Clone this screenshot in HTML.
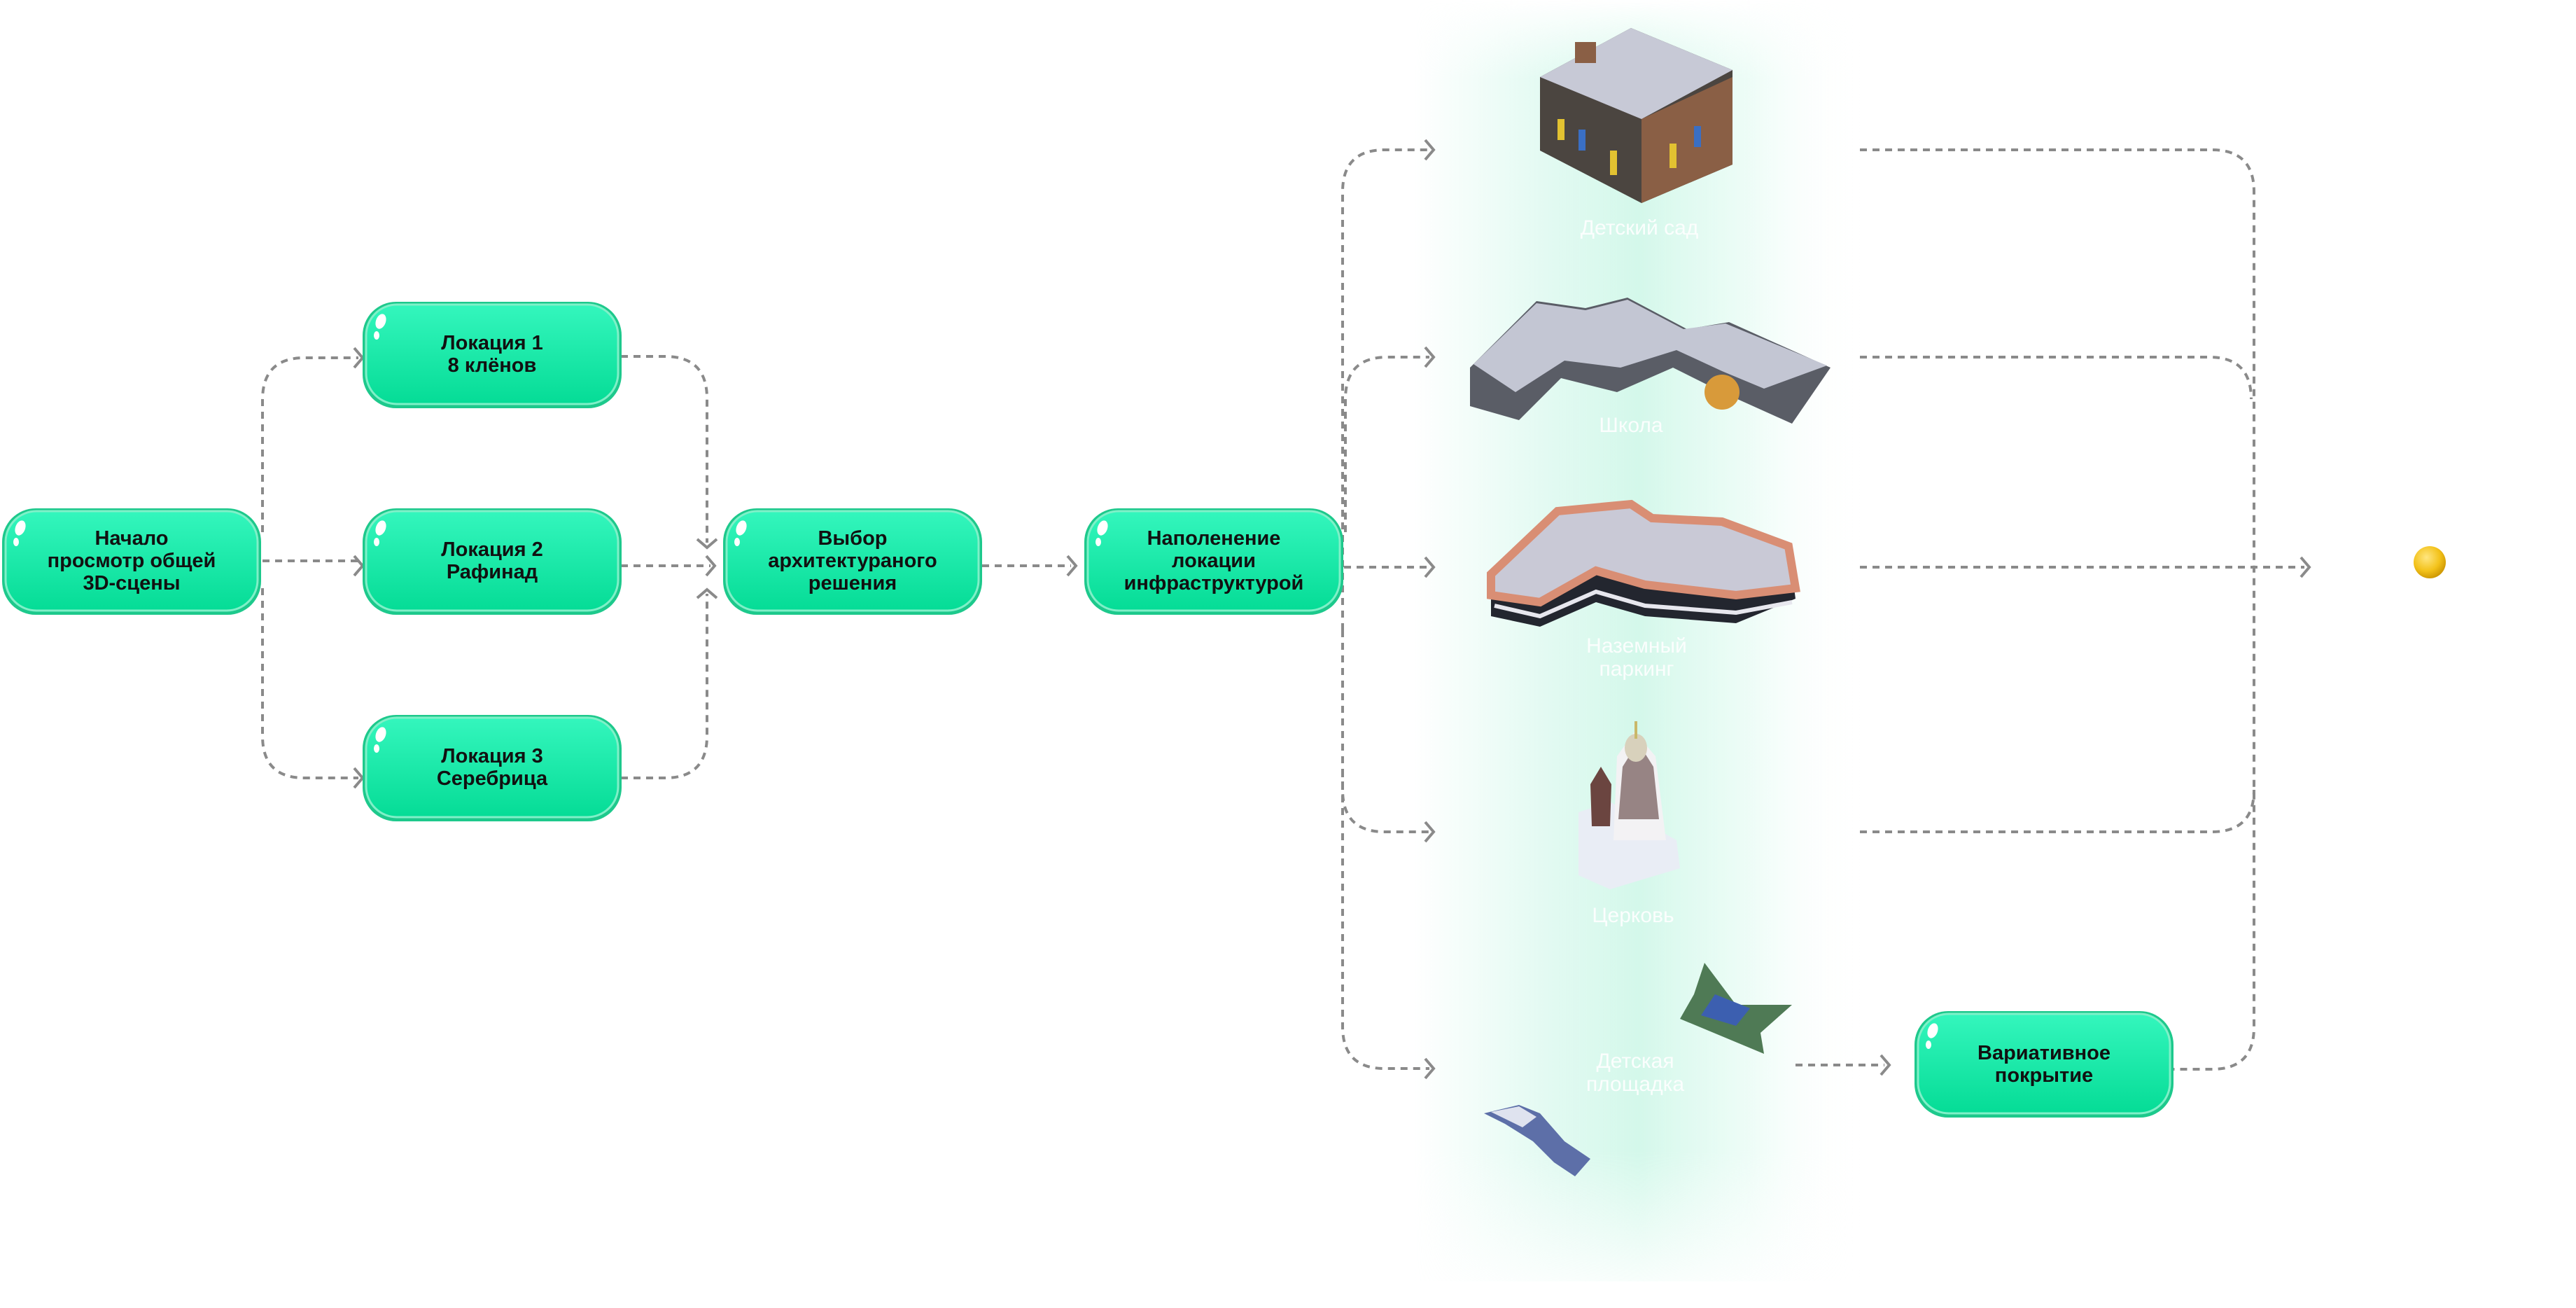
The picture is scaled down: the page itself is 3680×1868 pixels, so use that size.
<!DOCTYPE html>
<html><head><meta charset="utf-8"><style>
html,body{margin:0;padding:0;background:#fff;width:3680px;height:1868px;overflow:hidden}
svg{display:block}
text{font-family:"Liberation Sans",sans-serif}
</style></head><body>
<svg width="3680" height="1868" viewBox="0 0 3680 1868" xmlns="http://www.w3.org/2000/svg">
<defs>
<linearGradient id="ng" x1="0" y1="0" x2="0" y2="1">
<stop offset="0" stop-color="#34f6bd"/><stop offset="1" stop-color="#05dc96"/></linearGradient>
<linearGradient id="col" x1="0" y1="0" x2="1" y2="0">
<stop offset="0" stop-color="#d6f8ec" stop-opacity="0"/><stop offset="0.3" stop-color="#d6f8ec" stop-opacity="0.7"/><stop offset="0.5" stop-color="#cff7e8" stop-opacity="0.9"/><stop offset="0.75" stop-color="#dcfaef" stop-opacity="0.5"/><stop offset="1" stop-color="#ffffff" stop-opacity="0"/></linearGradient>
<linearGradient id="colv" x1="0" y1="0" x2="0" y2="1">
<stop offset="0" stop-color="#fff" stop-opacity="0"/><stop offset="0.06" stop-color="#fff" stop-opacity="1"/><stop offset="0.88" stop-color="#fff" stop-opacity="1"/><stop offset="1" stop-color="#fff" stop-opacity="0"/></linearGradient>
<mask id="vm"><rect x="2000" y="0" width="680" height="1868" fill="url(#colv)"/></mask>
<radialGradient id="dot" cx="0.4" cy="0.35" r="0.7">
<stop offset="0" stop-color="#ffe680"/><stop offset="0.6" stop-color="#f3c21a"/><stop offset="1" stop-color="#c99200"/></radialGradient>
<g id="node">
<rect x="0" y="0" width="370" height="152" rx="48" fill="#1dc98c"/>
<rect x="5" y="4" width="360" height="142" rx="44" fill="url(#ng)" stroke="#7ff0c8" stroke-width="3"/>
<ellipse cx="26" cy="28" rx="7" ry="11" fill="#fff" transform="rotate(20 26 28)"/>
<ellipse cx="20" cy="48" rx="4" ry="6" fill="#fff"/>
</g>
</defs>

<!-- glow column -->
<rect x="2020" y="0" width="640" height="1830" fill="url(#col)" mask="url(#vm)"/>

<!-- connectors -->
<g fill="none" stroke="#8a8a8a" stroke-width="4" stroke-dasharray="10 8">
<path d="M375,760 V571 Q375,511 435,511 H512"/>
<path d="M375,801 H512"/>
<path d="M375,840 V1051 Q375,1111 435,1111 H512"/>
<path d="M887,509 H950 Q1010,509 1010,569 V775"/>
<path d="M887,808 H1015"/>
<path d="M887,1111 H950 Q1010,1111 1010,1051 V848"/>
<path d="M1403,808 H1530"/>
<path d="M1918,900 V274 Q1918,214 1978,214 H2042"/>
<path d="M1922,760 V570 Q1922,510 1982,510 H2042"/>
<path d="M1920,810 H2042"/>
<path d="M1918,900 V1128 Q1918,1188 1978,1188 H2042"/>
<path d="M1918,1100 V1466 Q1918,1526 1978,1526 H2042"/>
<path d="M2657,214 H3160 Q3220,214 3220,274 V1467 Q3220,1527 3160,1527 H3105"/>
<path d="M2657,510 H3156 Q3216,510 3216,570"/>
<path d="M2657,1188 H3160 Q3220,1188 3220,1128"/>
<path d="M2657,810 H3292"/>
<path d="M2565,1521 H2692"/>
</g>
<g fill="none" stroke="#8a8a8a" stroke-width="4">
<polyline points="506,497 518,511 506,525"/>
<polyline points="506,794 518,808 506,822"/>
<polyline points="506,1097 518,1111 506,1125"/>
<polyline points="996,770 1010,782 1024,770"/>
<polyline points="1009,794 1021,808 1009,822"/>
<polyline points="996,854 1010,842 1024,854"/>
<polyline points="1525,794 1537,808 1525,822"/>
<polyline points="2036,200 2048,214 2036,228"/>
<polyline points="2036,496 2048,510 2036,524"/>
<polyline points="2036,796 2048,810 2036,824"/>
<polyline points="2036,1174 2048,1188 2036,1202"/>
<polyline points="2036,1512 2048,1526 2036,1540"/>
<polyline points="3287,796 3299,810 3287,824"/>
<polyline points="2687,1507 2699,1521 2687,1535"/>
</g>

<!-- nodes -->
<g font-size="29" font-weight="bold" fill="#111" text-anchor="middle">
<use href="#node" x="3" y="726"/>
<text x="188" y="778">Начало</text><text x="188" y="810">просмотр общей</text><text x="188" y="842">3D-сцены</text>
<use href="#node" x="518" y="431"/>
<text x="703" y="499">Локация 1</text><text x="703" y="531">8 клёнов</text>
<use href="#node" x="518" y="726"/>
<text x="703" y="794">Локация 2</text><text x="703" y="826">Рафинад</text>
<use href="#node" x="518" y="1021"/>
<text x="703" y="1089">Локация 3</text><text x="703" y="1121">Серебрица</text>
<use href="#node" x="1033" y="726"/>
<text x="1218" y="778">Выбор</text><text x="1218" y="810">архитектураного</text><text x="1218" y="842">решения</text>
<use href="#node" x="1549" y="726"/>
<text x="1734" y="778">Наполенение</text><text x="1734" y="810">локации</text><text x="1734" y="842">инфраструктурой</text>
<use href="#node" x="2735" y="1444"/>
<text x="2920" y="1513">Вариативное</text><text x="2920" y="1545">покрытие</text>
</g>

<!-- kindergarten -->
<g>
<polygon points="2200,110 2330,40 2475,100 2475,235 2345,290 2200,215" fill="#4b4540"/>
<polygon points="2345,170 2475,110 2475,235 2345,290" fill="#8a5f45"/>
<polygon points="2200,110 2330,40 2475,100 2345,170" fill="#c7c9d6"/>
<rect x="2250" y="60" width="30" height="30" fill="#8a5f45"/>
<rect x="2225" y="170" width="10" height="30" fill="#e2c231"/><rect x="2255" y="185" width="10" height="30" fill="#3a6fc4"/>
<rect x="2300" y="215" width="10" height="35" fill="#e2c231"/><rect x="2385" y="205" width="10" height="35" fill="#e2c231"/>
<rect x="2420" y="180" width="10" height="30" fill="#3a6fc4"/>
</g>
<!-- school -->
<g>
<polygon points="2100,525 2195,430 2265,440 2325,425 2410,470 2470,460 2615,525 2560,605 2460,560 2390,525 2310,560 2230,540 2170,600 2100,580" fill="#5a5d66"/>
<polygon points="2105,520 2195,433 2265,443 2325,428 2405,470 2465,462 2610,522 2520,555 2460,530 2395,500 2315,525 2235,515 2165,560" fill="#c3c6d3"/>
<circle cx="2460" cy="560" r="25" fill="#d89a3a"/>
</g>
<!-- parking -->
<g>
<path d="M2130,820 L2225,730 L2330,720 L2360,740 L2460,745 L2555,780 L2565,855 L2480,890 L2350,880 L2280,860 L2200,895 L2130,880 Z" fill="#23262f"/>
<path d="M2130,820 L2225,730 L2330,720 L2360,740 L2460,745 L2555,780 L2565,840 L2480,850 L2350,835 L2280,815 L2200,860 L2130,850 Z" fill="#c9c9d6" stroke="#d98e74" stroke-width="12"/>
<path d="M2135,865 L2200,880 L2280,845 L2350,865 L2480,875 L2560,860" fill="none" stroke="#e7e7ee" stroke-width="6"/>
</g>
<!-- church -->
<g>
<polygon points="2255,1160 2300,1145 2395,1200 2400,1240 2300,1270 2255,1250" fill="#e9edf5"/>
<polygon points="2310,1080 2335,1045 2365,1080 2380,1200 2305,1200" fill="#f3f2f4"/>
<polygon points="2318,1095 2340,1060 2362,1095 2370,1170 2312,1170" fill="#5a3a38" opacity="0.6"/>
<ellipse cx="2337" cy="1068" rx="16" ry="20" fill="#d8d1bc"/>
<rect x="2335" y="1030" width="4" height="25" fill="#c9b86a"/>
<polygon points="2272,1120 2287,1095 2302,1120 2300,1180 2274,1180" fill="#6b4540"/>
</g>
<!-- playground pieces -->
<polygon points="2435,1375 2480,1435 2560,1435 2515,1475 2520,1505 2400,1455 2420,1420" fill="#4f7a55"/>
<polygon points="2450,1420 2500,1440 2480,1465 2430,1450" fill="#3c5fb0"/>
<polygon points="2120,1590 2170,1578 2200,1590 2235,1630 2272,1655 2250,1680 2220,1660 2190,1630 2150,1605" fill="#5d6fa8"/>
<polygon points="2130,1588 2170,1580 2195,1595 2175,1610" fill="#dfe3ef"/>

<!-- faint labels -->
<g font-size="30" fill="#ffffff" text-anchor="middle" opacity="0.9">
<text x="2342" y="335">Детский сад</text>
<text x="2330" y="617">Школа</text>
<text x="2338" y="932">Наземный</text><text x="2338" y="965">паркинг</text>
<text x="2333" y="1317">Церковь</text>
<text x="2336" y="1525">Детская</text><text x="2336" y="1558">площадка</text>
</g>

<circle cx="3471" cy="803" r="23" fill="url(#dot)"/>
</svg>
</body></html>
